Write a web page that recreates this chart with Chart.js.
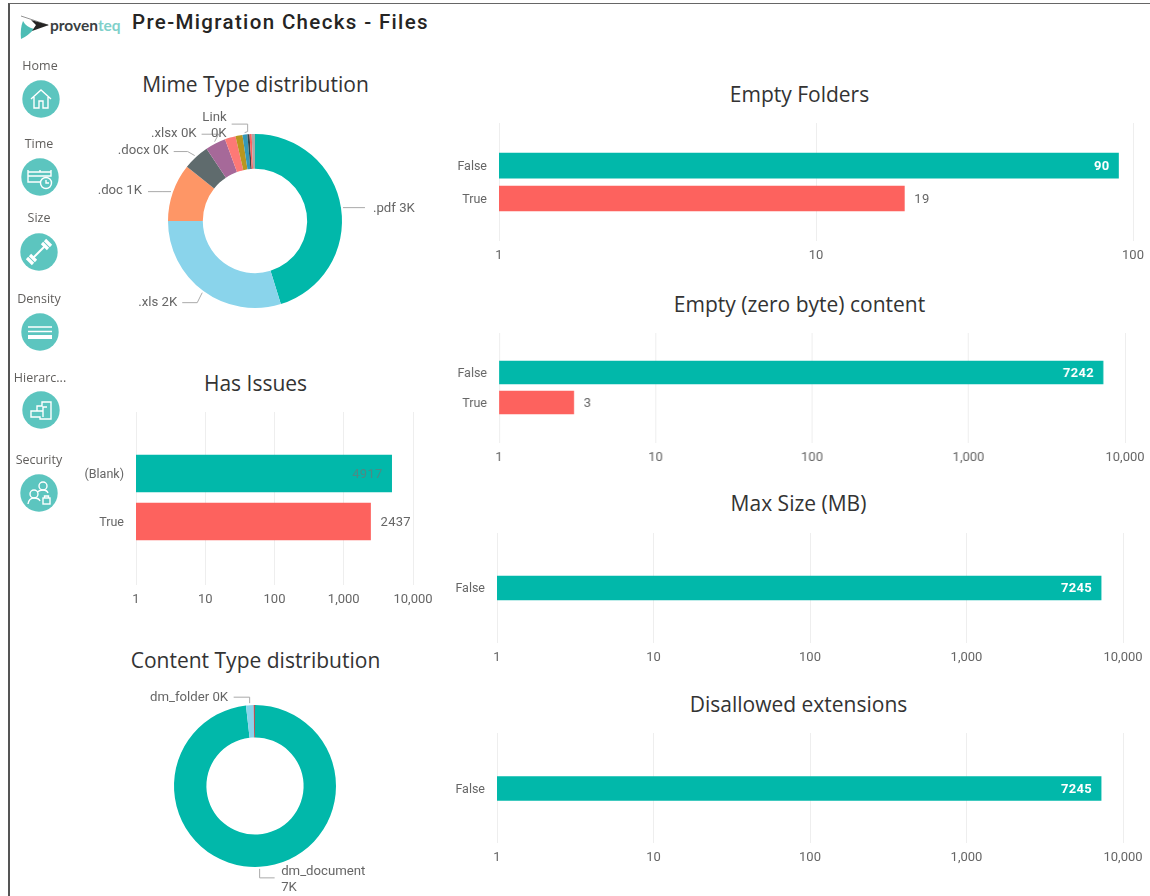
<!DOCTYPE html>
<html>
<head>
<meta charset="utf-8">
<title>Pre-Migration Checks - Files</title>
<script src="https://cdn.jsdelivr.net/npm/chart.js@4"></script>
<style>
  html, body { margin: 0; padding: 0; background: #fff; overflow: hidden; }
  body { position: relative; width: 1150px; height: 896px; font-family: "Open Sans", sans-serif; }
  #frame { position: absolute; left: 8px; top: 3px; width: 1150px; height: 900px; border-left: 2px solid #555; border-top: 1.5px solid #666; }
  canvas { position: absolute; }
  .title { position: absolute; text-align: center; color: #333; font-size: 21px; line-height: 30px; white-space: nowrap; transform: translateX(-50%); }
  .nav { position: absolute; width: 60px; text-align: center; color: #605e5c; font-size: 12.5px; white-space: nowrap; transform: translateX(-50%); }
  svg.icon { position: absolute; }
  #heading { position: absolute; left: 132px; top: 10px; font: 500 20.5px "Roboto", sans-serif; letter-spacing: 1.35px; color: #252423; white-space: nowrap; }
  #brand { position: absolute; left: 50px; top: 16px; font: bold 15.5px "Lato", sans-serif; color: #3a3f42; }
  #brand span { color: #7fd0ca; }
</style>
</head>
<body>
<div id="frame"></div>
<svg class="icon" style="left:18px;top:12px" width="34" height="30" viewBox="0 0 34 30">
  <path d="M3 27 Q2 16 5 9 Q8 15 16 17 Q10 24 3 27Z" fill="#4dbdb5"/>
  <path d="M3 4 L30 13" stroke="#777" stroke-width="0.8" fill="none"/>
  <path d="M13 8 L31 13 L14 19 L18 13Z" fill="#252423"/>
</svg>
<div id="brand">proven<span>teq</span></div>
<div id="heading">Pre-Migration Checks - Files</div>
<div id="page"></div>

<script>
// Mime Type distribution
var mimeLabels = ['.pdf', '.xls', '.doc', '.docx', '.xlsx', 'pink', 'ochre', 'Link', 'dark', 'red', 'other'];
var mimeValues = [3275, 2159, 775, 355, 275, 145, 94, 65, 29, 29, 44];
var mimeColors = ['#01B8AA', '#8AD4EB', '#FE9666', '#5F6B6D', '#A66999', '#FD7976', '#B8961F', '#3599B8', '#374649', '#FD625E', '#A9A9A9'];

// Content Type distribution
var contentLabels = ['dm_document', 'dm_folder', 'other'];
var contentValues = [7116, 109, 20];
var contentColors = ['#01B8AA', '#8AD4EB', '#B5545A'];

// bar panels
var issuesCats = ['(Blank)', 'True'];
var issuesValues = [4917, 2437];
var foldersCats = ['False', 'True'];
var foldersValues = [90, 19];
var zeroCats = ['False', 'True'];
var zeroValues = [7242, 3];
var maxSizeCats = ['False'];
var maxSizeValues = [7245];
var extensionCats = ['False'];
var extensionValues = [7245];

var TEAL = '#01B8AA', RED = '#FD625E', GREY = '#666';
var LABEL_FONT = '13px Roboto, sans-serif';

function addDiv(cls, text, x, y, size) {
  var d = document.createElement('div');
  d.className = cls;
  d.textContent = text;
  d.style.left = x + 'px';
  d.style.top = y + 'px';
  if (size) d.style.fontSize = size + 'px';
  document.getElementById('page').appendChild(d);
}

function addCanvas(x, y, w, h) {
  var c = document.createElement('canvas');
  c.style.left = x + 'px';
  c.style.top = y + 'px';
  c.style.width = w + 'px';
  c.style.height = h + 'px';
  c.width = w;
  c.height = h;
  document.getElementById('page').appendChild(c);
  return c.getContext('2d');
}

// value labels on the bars, inside the end when they fit
var barValueLabels = {
  id: 'barValueLabels',
  afterDatasetsDraw: function (chart, args, opts) {
    var ctx = chart.ctx;
    var meta = chart.getDatasetMeta(0);
    ctx.save();
    ctx.textBaseline = 'middle';
    ctx.letterSpacing = '0.3px';
    meta.data.forEach(function (bar, i) {
      var v = chart.data.datasets[0].data[i].x;
      var mode = opts.modes[i];
      if (mode === 'out') {
        ctx.font = LABEL_FONT;
        ctx.fillStyle = GREY;
        ctx.textAlign = 'left';
        ctx.fillText(v, bar.x + 10, bar.y + 1);
      } else {
        ctx.font = (mode === 'dim' ? '' : 'bold ') + LABEL_FONT;
        ctx.fillStyle = mode === 'dim' ? '#4d8a85' : '#fff';
        ctx.textAlign = 'right';
        ctx.fillText(v, bar.x - 9, bar.y + 1);
      }
    });
    ctx.restore();
  }
};

// g: axis pixel positions of the panel
function barPanel(cats, values, g) {
  var yAxisW = 60, xAxisH = 26, padR = 40;
  var ctx = addCanvas(g.left - yAxisW, g.top, g.right - g.left + yAxisW + padR, g.bottom - g.top + xAxisH);
  var pitch = g.centers.length > 1 ? g.centers[1] - g.centers[0] : 48;
  var yMin = (g.top - g.centers[0]) / pitch;
  var yMax = (g.bottom - g.centers[0]) / pitch;
  new Chart(ctx, {
    type: 'bar',
    data: {
      datasets: [{
        data: values.map(function (v, i) { return { x: v, y: i }; }),
        backgroundColor: [TEAL, RED],
        barThickness: g.thick
      }]
    },
    plugins: [barValueLabels],
    options: {
      indexAxis: 'y',
      responsive: false,
      animation: false,
      layout: { padding: { left: 0, top: 0, bottom: 0, right: padR } },
      plugins: {
        legend: { display: false },
        tooltip: { enabled: false },
        barValueLabels: { modes: g.modes }
      },
      scales: {
        x: {
          type: 'logarithmic',
          min: 1,
          max: g.max,
          border: { display: false },
          grid: { color: '#eeeeee', lineWidth: 1, drawTicks: false },
          afterBuildTicks: function (s) {
            var t = [], v = 1;
            while (v <= g.max) { t.push({ value: v }); v *= 10; }
            s.ticks = t;
          },
          afterFit: function (s) { s.height = xAxisH; },
          ticks: {
            color: GREY,
            font: { family: 'Roboto, sans-serif', size: 13 },
            maxRotation: 0,
            padding: 7,
            callback: function (v) { return Number(v).toLocaleString('en-US'); }
          }
        },
        y: {
          type: 'linear',
          reverse: true,
          offset: false,
          bounds: 'data',
          min: yMin,
          max: yMax,
          border: { display: false },
          grid: { display: false, drawTicks: false },
          afterBuildTicks: function (s) {
            s.ticks = cats.map(function (c, i) { return { value: i }; });
          },
          // the plot has to reach the top of the canvas
          afterFit: function (s) {
            s.width = yAxisW;
            s.paddingTop = 0;
            s.paddingBottom = 0;
          },
          ticks: {
            color: GREY,
            autoSkip: false,
            labelOffset: 1,
            font: { family: 'Roboto, sans-serif', size: 12.5 },
            padding: 12,
            callback: function (v) { return cats[v]; }
          }
        }
      }
    }
  });
}

// labels around the doughnut with their elbow leader lines
var sliceLabels = {
  id: 'sliceLabels',
  afterDatasetsDraw: function (chart, args, opts) {
    var ctx = chart.ctx;
    var arcs = chart.getDatasetMeta(0).data;
    ctx.save();
    ctx.font = '13.2px Roboto, sans-serif';
    ctx.textBaseline = 'middle';
    opts.items.forEach(function (it) {
      var a = arcs[it.index];
      var mid = (a.startAngle + a.endAngle) / 2;
      var sx = a.x + Math.cos(mid) * (a.outerRadius + 2);
      var sy = a.y + Math.sin(mid) * (a.outerRadius + 2);
      ctx.strokeStyle = '#aaa';
      ctx.lineWidth = 1;
      ctx.beginPath();
      ctx.moveTo(sx, sy);
      it.line.forEach(function (p) { ctx.lineTo(sx + p[0], sy + p[1]); });
      ctx.stroke();
      ctx.fillStyle = GREY;
      ctx.textAlign = it.align;
      it.text.forEach(function (t, n) {
        ctx.fillText(t, sx + it.at[0], sy + it.at[1] + n * 16);
      });
    });
    ctx.restore();
  }
};

function donutPanel(labels, values, colors, g) {
  var ctx = addCanvas(g.x, g.y, g.w, g.h);
  new Chart(ctx, {
    type: 'doughnut',
    data: {
      labels: labels,
      datasets: [{ data: values, backgroundColor: colors, borderWidth: 0 }]
    },
    plugins: [sliceLabels],
    options: {
      responsive: false,
      animation: false,
      cutout: '60%',
      radius: g.r,
      plugins: {
        legend: { display: false },
        tooltip: { enabled: false },
        sliceLabels: { items: g.items }
      }
    }
  });
}

// titles
addDiv('title', 'Mime Type distribution', 255.5, 69);
addDiv('title', 'Has Issues', 255.5, 367.5);
addDiv('title', 'Content Type distribution', 255.5, 645);
addDiv('title', 'Empty Folders', 799.5, 79);
addDiv('title', 'Empty (zero byte) content', 799.5, 289);
addDiv('title', 'Max Size (MB)', 798.5, 488);
addDiv('title', 'Disallowed extensions', 798.5, 689);

// doughnuts
donutPanel(mimeLabels, mimeValues, mimeColors, {
  x: 55, y: 21, w: 400, h: 400, r: 87,
  items: [
    { index: 0, text: ['.pdf 3K'], align: 'left', at: [30, 1.5], line: [[22, 0]] },
    { index: 1, text: ['.xls 2K'], align: 'right', at: [-25, 10], line: [[-5, 10], [-20, 10]] },
    { index: 2, text: ['.doc 1K'], align: 'right', at: [-29, -0.5], line: [[-8, 0], [-23, 0]] },
    { index: 3, text: ['.docx 0K'], align: 'right', at: [-26, -4.5], line: [[-7, -4], [-21, -4]] },
    { index: 4, text: ['.xlsx 0K'], align: 'right', at: [-18, -8], line: [[4, -7.5], [-13, -7.5]] },
    { index: 7, text: ['Link', '0K'], align: 'right', at: [-18, -14.5], line: [[3, -1], [3, -8.5], [-13, -8.5]] }
  ]
});
donutPanel(contentLabels, contentValues, contentColors, {
  x: 55, y: 586, w: 400, h: 400, r: 81,
  items: [
    { index: 1, text: ['dm_folder 0K'], align: 'right', at: [-21.5, -5], line: [[0, -6], [-16, -6]] },
    { index: 0, text: ['dm_document', '7K'], align: 'left', at: [21.5, 3], line: [[0, 9], [15, 9]] }
  ]
});

// bars
barPanel(issuesCats, issuesValues, { left: 136, right: 413, top: 412, bottom: 585, max: 10000, thick: 37, centers: [473.5, 521.5], modes: ['dim', 'out'] });
barPanel(foldersCats, foldersValues, { left: 499, right: 1133, top: 123, bottom: 241, max: 100, thick: 25, centers: [165.7, 198.5], modes: ['in', 'out'] });
barPanel(zeroCats, zeroValues, { left: 499, right: 1124.5, top: 333, bottom: 443, max: 10000, thick: 23, centers: [372.5, 402.5], modes: ['in', 'out'] });
barPanel(maxSizeCats, maxSizeValues, { left: 497, right: 1123, top: 533, bottom: 643, max: 10000, thick: 24, centers: [588], modes: ['in'] });
barPanel(extensionCats, extensionValues, { left: 497, right: 1123, top: 733, bottom: 843, max: 10000, thick: 24, centers: [788.5], modes: ['in'] });

// nav buttons, label above a teal circle
var navItems = [
  { label: 'Home', lx: 40, ly: 57, cx: 40.5, cy: 98.5, glyph: '<path d="M-10 0 L0 -9 L10 0 M-7 -2 V9 H-2 V2 H2 V9 H7 V-2" />' },
  { label: 'Time', lx: 39, ly: 135, cx: 39.5, cy: 177, glyph: '<path d="M-12 -7 V-1 H11 V-7 M-12 -1 V5 H1 M-12 -5 H11 M0 -7 V-5" /><circle cx="6" cy="6" r="5.5" /><path d="M6 3 V6 H9" />' },
  { label: 'Size', lx: 39, ly: 209, cx: 38.5, cy: 251.5, glyph: '<path d="M-6 6 L6 -6" stroke-width="2"/><path d="M-9 3 L-3 9 M-12 6 L-6 12 M3 -9 L9 -3 M6 -12 L12 -6" stroke-width="3.2"/>' },
  { label: 'Density', lx: 39, ly: 290, cx: 39.5, cy: 332, glyph: '<path d="M-12 -5 H12" stroke-width="1.5"/><path d="M-12 -0.5 H12" stroke-width="1.5"/><path d="M-12 5 H12" stroke-width="4"/>' },
  { label: 'Hierarc...', lx: 40, ly: 369, cx: 40.5, cy: 410, glyph: '<path d="M-10 7 V1 H-4 V-4 H1 V-8 H10 V9 H-1 V7 Z M-4 1 H2 V-3 H6 M2 1 V7" />' },
  { label: 'Security', lx: 39, ly: 451, cx: 38.5, cy: 492.5, glyph: '<circle cx="4" cy="-7" r="4" /><circle cx="-5" cy="1" r="4" /><path d="M-11 11 Q-10 5 -5 5 Q0 5 1 8 M-2 -1 Q1 -3 4 -3 Q8 -3 9 0" /><rect x="4" y="5" width="7" height="6" /><path d="M5.5 5 V3 H9.5 V5" />' }
];

navItems.forEach(function (n) {
  addDiv('nav', n.label, n.lx, n.ly);
  var s = document.createElementNS('http://www.w3.org/2000/svg', 'svg');
  s.setAttribute('class', 'icon');
  s.setAttribute('width', 40);
  s.setAttribute('height', 40);
  s.setAttribute('viewBox', '-20 -20 40 40');
  s.style.left = (n.cx - 20) + 'px';
  s.style.top = (n.cy - 20) + 'px';
  s.innerHTML = '<circle r="18.7" fill="#5CC5BF"/><g fill="none" stroke="#fff" stroke-width="1.4">' + n.glyph + '</g>';
  document.getElementById('page').appendChild(s);
});
</script>
</body>
</html>
